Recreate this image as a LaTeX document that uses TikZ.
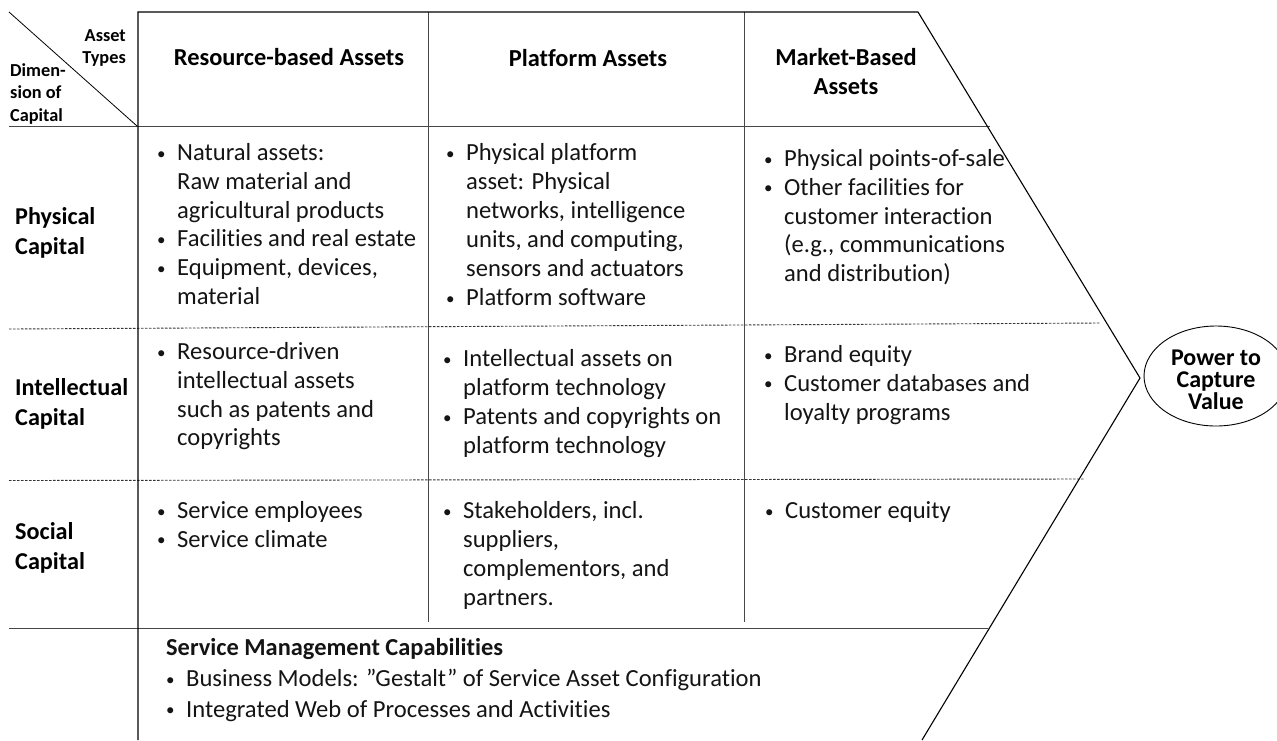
\documentclass[tikz,border=0pt]{standalone}
\usepackage{fontspec}
\usetikzlibrary{shapes.geometric}
\setmainfont[RawFeature=-liga]{Carlito}
\newcommand{\bl}{\makebox[20pt][l]{\raisebox{1.2pt}{\fontsize{17}{17}\selectfont\textbullet}}}
\newcommand{\nb}{\hspace*{20pt}}
\tikzset{
  x=1pt,y=-1pt,
  solidline/.style={draw=black!72,line width=1pt},
  rowline/.style={draw=black!80,line width=0.9pt,dash pattern=on 2.5pt off 1.5pt},
  chevron/.style={draw=black,line width=1.1pt},
  body/.style={inner sep=0pt,anchor=north west,align=left,font=\fontsize{24.6}{28.9}\selectfont,text=black!92},
  head/.style={inner sep=0pt,align=center,font=\bfseries\fontsize{24.4}{29}\selectfont},
  rowhead/.style={inner sep=0pt,anchor=west,align=left,font=\bfseries\fontsize{24.2}{30}\selectfont},
  corner/.style={inner sep=0pt,font=\bfseries\fontsize{18.3}{22.3}\selectfont},
  goalshape/.style={draw=black,line width=0.9pt,ellipse,inner sep=0pt,minimum width=144pt,minimum height=100pt},
  goaltext/.style={inner sep=0pt,align=center,font=\bfseries\fontsize{24}{22}\selectfont}
}
\begin{document}
\begin{tikzpicture}
\useasboundingbox (0,0) rectangle (1277,740);
\clip (0,0) rectangle (1277,740);
% frame
\coordinate (tl) at (138,12);
\coordinate (tr) at (918,12);
\coordinate (tip) at (1140,378);
\coordinate (br) at (922,740);
\coordinate (bl) at (138,740);
\draw[solidline] (428,12) -- (428,622);
\draw[solidline] (744,12) -- (744,622);
\draw[solidline] (9,126) -- (990,126);
\draw[solidline] (9,628.3) -- (988,628.3);
\draw[rowline] (9,329) -- (1100,323);
\draw[rowline] (9,480.5) -- (1084,479);
\draw[chevron] (bl) -- (tl) -- (tr) -- (tip) -- (br);
\draw[draw=black,line width=0.8pt] (9,12) -- (137,126);
% corner
\node[corner,anchor=east,align=right] (asset) at (126,48) {Asset\\Types};
\node[corner,anchor=west,align=left] (dim) at (10,94) {Dimen-\\sion of\\Capital};
% headers
\node[head] (h1) at (289,57) {Resource-based Assets};
\node[head] (h2) at (588,58) {Platform Assets};
\node[head] (h3) at (846,72) {Market-Based\\Assets};
% row headers
\node[rowhead] (r1) at (15,233) {Physical\\Capital};
\node[rowhead] (r2) at (15,404) {Intellectual\\Capital};
\node[rowhead] (r3) at (15,548) {Social\\Capital};
% cells
\node[body] (c11) at (157,143) {\bl Natural assets:\\\nb Raw material and\\\nb agricultural products\\\bl Facilities and real estate\\\bl Equipment, devices,\\\nb material};
\node[body] (c12) at (446,143.5) {\bl Physical platform\\\nb asset: Physical\\\nb networks, intelligence\\\nb units, and computing,\\\nb sensors and actuators\\\bl Platform software};
\node[body] (c13) at (764,149) {\bl Physical points-of-sale\\\bl Other facilities for\\\nb customer interaction\\\nb (e.g., communications\\\nb and distribution)};
\node[body] (c21) at (157,342) {\bl Resource-driven\\\nb intellectual assets\\\nb such as patents and\\\nb copyrights};
\node[body] (c22) at (443,349.5) {\bl Intellectual assets on\\\nb platform technology\\\bl Patents and copyrights on\\\nb platform technology};
\node[body] (c23) at (764,345) {\bl Brand equity\\\bl Customer databases and\\\nb loyalty programs};
\node[body] (c31) at (157,501) {\bl Service employees\\\bl Service climate};
\node[body] (c32) at (443,501.5) {\bl Stakeholders, incl.\\\nb suppliers,\\\nb complementors, and\\\nb partners.};
\node[body] (c33) at (765,501.5) {\bl Customer equity};
\node[body,font=\bfseries\fontsize{24.4}{26}\selectfont] (s0) at (166,638) {Service Management Capabilities};
\node[body,font=\fontsize{24.6}{30.5}\selectfont] (s1) at (166,669) {\bl Business Models: ”Gestalt” of Service Asset Configuration\\\bl Integrated Web of Processes and Activities};
% goal
\node[goalshape] (g) at (1216,376) {};
\node[goaltext] (gt) at (1216,380) {Power to\\Capture\\Value};
\end{tikzpicture}
\end{document}
